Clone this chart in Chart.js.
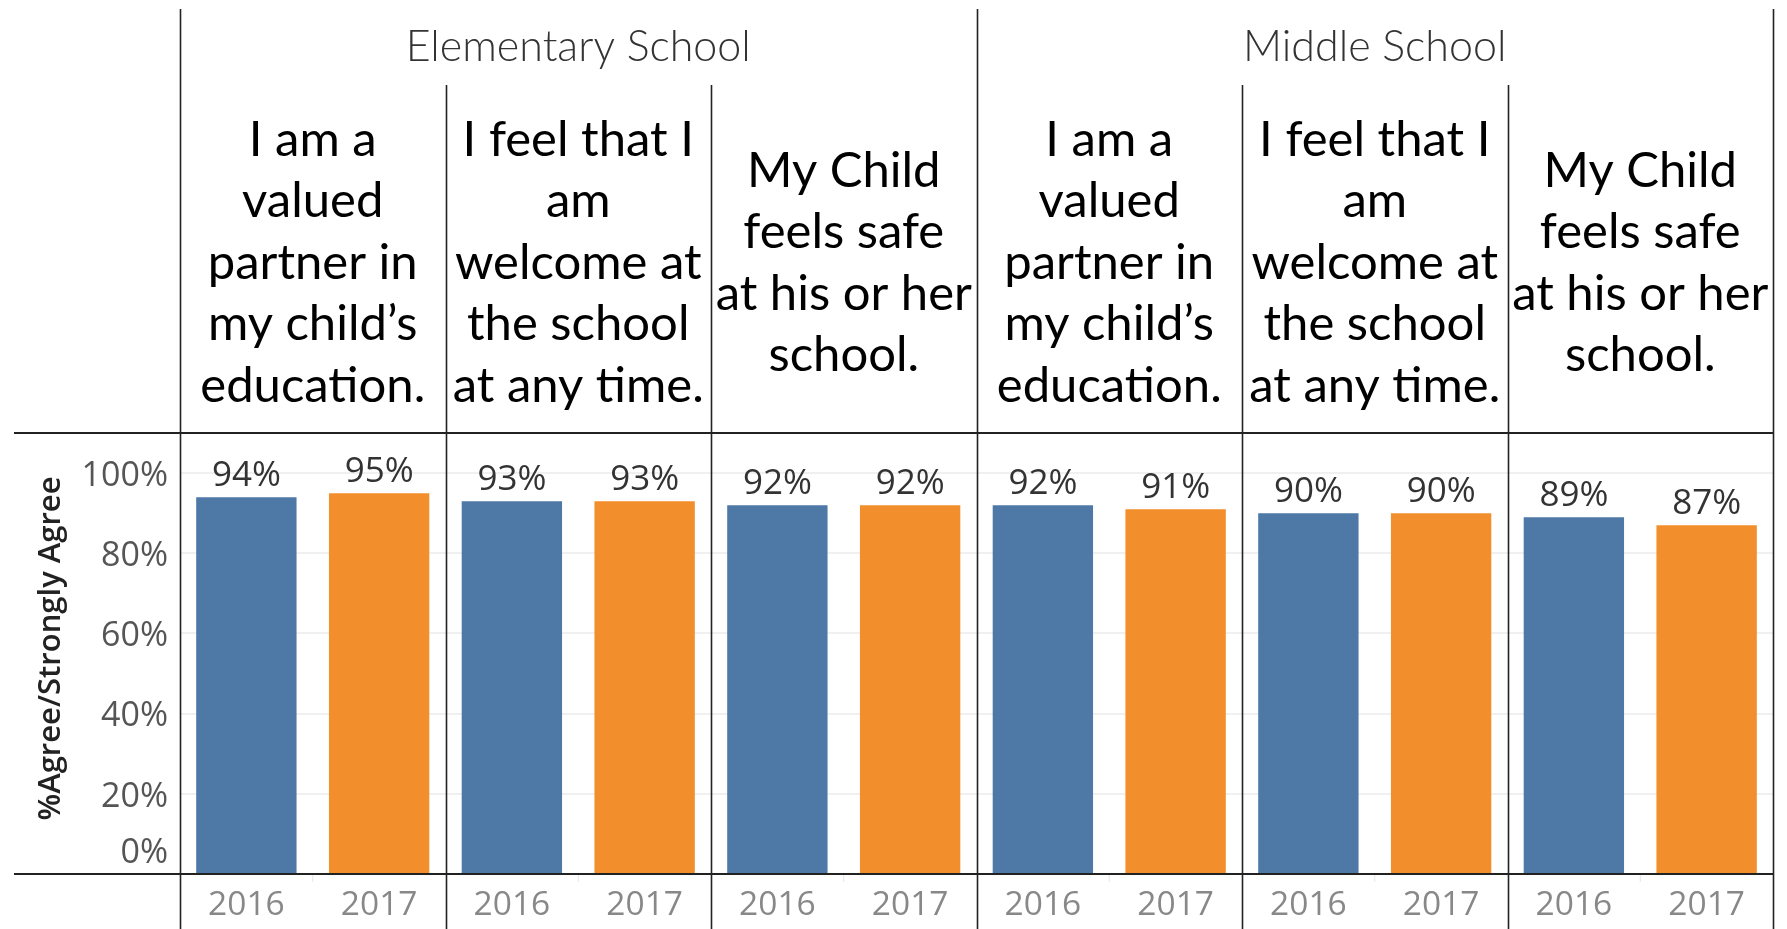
<!DOCTYPE html>
<html>
<head>
<meta charset="utf-8">
<script src="https://cdn.jsdelivr.net/npm/chart.js@4"></script>
<style>
  html, body { margin: 0; padding: 0; background: #fff; }
  #wrap { width: 1787px; height: 929px; position: relative; }
</style>
</head>
<body>
<div id="wrap"><canvas id="grafico"></canvas></div>
<script>
// Dados do gráfico
const escolas = ['Elementary School', 'Middle School'];
const perguntas = [
    ['I am a', 'valued', 'partner in', 'my child\u2019s', 'education.'],
    ['I feel that I', 'am', 'welcome at', 'the school', 'at any time.'],
    ['My Child', 'feels safe', 'at his or her', 'school.']
];
// 6 categorias: escola x pergunta
const categorias = [];
escolas.forEach(e => perguntas.forEach(p => categorias.push(p)));
const anos = ['2016', '2017'];
const valores2016 = [94, 93, 92, 92, 90, 89];
const valores2017 = [95, 93, 92, 91, 90, 87];
const ticksY = [0, 20, 40, 60, 80, 100];
const tituloY = '%Agree/Strongly Agree';

const AZUL = '#4e79a7';
const LARANJA = '#f28e2b';
const FONTE = '"Open Sans", sans-serif';

// Plugin para desenhar cabeçalhos, bordas e rótulos
const tabelaPlugin = {
    id: 'tabela',
    afterDraw(chart) {
        const c = chart.ctx;
        const area = chart.chartArea;
        const x = chart.scales.x;
        const y = chart.scales.y;
        const n = categorias.length;
        const centros = categorias.map((_, i) => x.getPixelForValue(i));
        const bordas = [area.left];
        for (let i = 0; i < n - 1; i++) bordas.push((centros[i] + centros[i + 1]) / 2);
        bordas.push(area.right);

        c.save();
        // marcas entre as barras
        c.strokeStyle = '#e6e6e6';
        c.lineWidth = 1;
        centros.forEach(cx => {
            c.beginPath(); c.moveTo(cx, area.bottom); c.lineTo(cx, area.bottom + 8); c.stroke();
        });

        // linhas horizontais
        c.strokeStyle = '#222';
        c.lineWidth = 2;
        [area.top, area.bottom].forEach(yy => {
            c.beginPath(); c.moveTo(14, yy); c.lineTo(area.right, yy); c.stroke();
        });
        // linhas verticais
        c.lineWidth = 1.6;
        bordas.forEach((bx, i) => {
            const cheia = (i % perguntas.length === 0);
            c.beginPath();
            c.moveTo(Math.round(bx) + 0.5, cheia ? 9 : 85);
            c.lineTo(Math.round(bx) + 0.5, chart.height);
            c.stroke();
        });

        // nomes das escolas
        c.fillStyle = '#333';
        c.font = '300 43px Lato, sans-serif';
        c.textAlign = 'center';
        c.textBaseline = 'middle';
        escolas.forEach((e, k) => {
            const a = bordas[k * perguntas.length];
            const b = bordas[(k + 1) * perguntas.length];
            c.fillText(e, (a + b) / 2, 47);
        });

        // perguntas
        c.fillStyle = '#000';
        c.font = '49px Lato, sans-serif';
        const alturaLinha = 61.5;
        categorias.forEach((linhas, i) => {
            const y0 = 263 - (linhas.length - 1) * alturaLinha / 2;
            linhas.forEach((l, j) => c.fillText(l, centros[i], y0 + j * alturaLinha));
        });

        // ticks do eixo Y
        c.fillStyle = '#555';
        c.font = '34px ' + FONTE;
        c.textAlign = 'right';
        ticksY.forEach(v => {
            let py = y.getPixelForValue(v) + 3;
            if (v === 0) py -= 24;
            c.fillText(v + '%', 168, py);
        });

        // título do eixo Y
        c.save();
        c.translate(51, (area.top + area.bottom) / 2 - 5);
        c.rotate(-Math.PI / 2);
        c.textAlign = 'center';
        c.fillStyle = '#222';
        c.font = '600 31px ' + FONTE;
        c.fillText(tituloY, 0, 0);
        c.restore();

        // rótulos das barras e anos
        chart.data.datasets.forEach((ds, d) => {
            chart.getDatasetMeta(d).data.forEach((bar, i) => {
                c.textAlign = 'center';
                c.textBaseline = 'bottom';
                c.fillStyle = '#333';
                c.font = '35px ' + FONTE;
                c.fillText(ds.data[i] + '%', bar.x, bar.y - 4);
                c.textBaseline = 'middle';
                c.fillStyle = '#888';
                c.font = '33.5px ' + FONTE;
                c.fillText(ds.label, bar.x, 905);
            });
        });
        c.restore();
    }
};

const ctx = document.getElementById('grafico').getContext('2d');
const grafico = new Chart(ctx, {
    type: 'bar',
    data: {
        labels: categorias,
        datasets: [
            { label: anos[0], data: valores2016, backgroundColor: AZUL },
            { label: anos[1], data: valores2017, backgroundColor: LARANJA }
        ]
    },
    options: {
        responsive: true,
        maintainAspectRatio: false,
        animation: false,
        datasets: {
            bar: { barPercentage: 0.756, categoryPercentage: 1.0 }
        },
        layout: { padding: { top: 433, bottom: 55, left: 0, right: 14 } },
        scales: {
            x: { display: false },
            y: {
                min: 0,
                max: 110,
                ticks: { display: false, stepSize: 20 },
                border: { display: false },
                grid: {
                    drawTicks: false,
                    color: (c) => (c.tick && c.tick.value > 0 && c.tick.value <= 100) ? '#f0f0f0' : 'rgba(0,0,0,0)',
                    lineWidth: 2
                },
                afterFit: (s) => { s.width = 180; }
            }
        },
        plugins: {
            legend: { display: false },
            tooltip: { enabled: false }
        }
    },
    plugins: [tabelaPlugin]
});
</script>
</body>
</html>
